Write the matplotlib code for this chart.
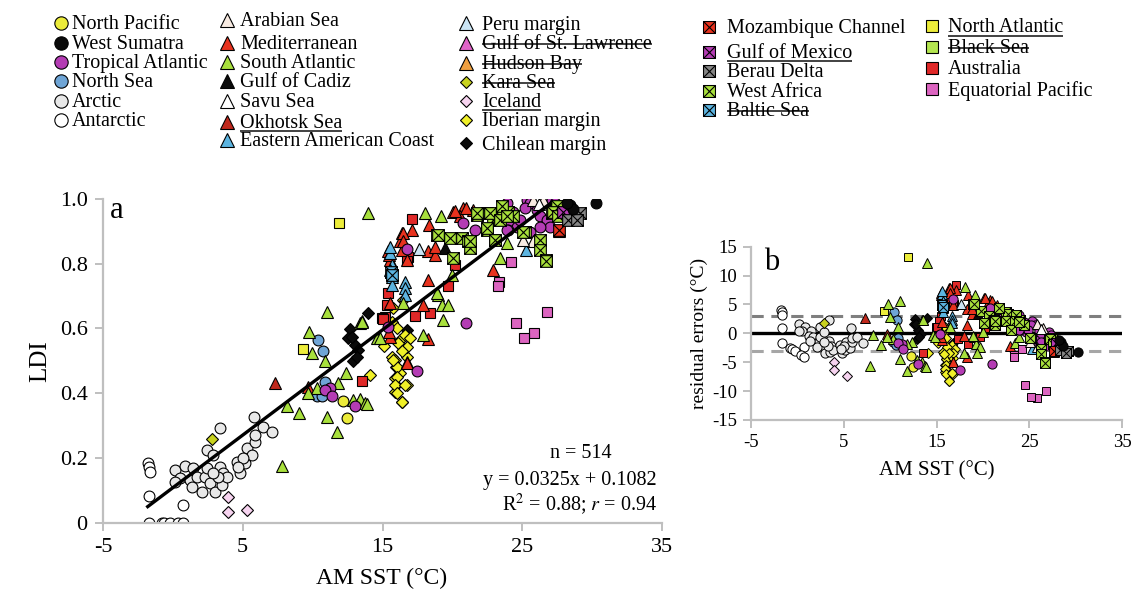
import matplotlib
matplotlib.use("Agg")
import matplotlib.pyplot as plt
from matplotlib.path import Path
import numpy as np

plt.rcParams['font.family'] = ['Liberation Serif', 'DejaVu Serif']
plt.rcParams['mathtext.fontset'] = 'stix'
plt.rcParams['axes.unicode_minus'] = False

# ---------------- data (AM SST in degC, LDI) ----------------
fit_slope = 0.0325
fit_intercept = 0.1082
fit_range = [-1.8, 27.0]
n_samples = 514

north_pacific_sst = [12.20, 12.44]
north_pacific_ldi = [0.376, 0.323]
west_sumatra_sst = [30.28, 28.42, 28.66, 28.18]
west_sumatra_ldi = [0.987, 0.982, 0.969, 0.987]
tropical_atlantic_sst = [25.32, 25.55, 25.20, 26.03, 26.27, 26.75, 26.99, 27.11, 27.34, 27.70, 28.06, 28.30,
                         24.36, 24.12, 24.60, 25.55, 26.27, 24.00, 24.84, 23.89, 27.46, 20.78, 16.78, 21.62,
                         23.88, 21.00, 15.36, 17.49, 11.24, 10.89, 11.36, 13.03]
tropical_atlantic_ldi = [0.998, 0.987, 0.972, 0.967, 0.946, 0.936, 0.915, 0.998, 0.987, 0.977, 0.967, 0.956,
                         0.961, 0.930, 0.915, 0.899, 0.915, 0.905, 0.936, 0.987, 0.946, 0.925, 0.845, 0.905,
                         0.905, 0.618, 0.606, 0.470, 0.415, 0.410, 0.392, 0.361]
north_sea_sst = [10.41, 10.72, 10.89, 10.29, 10.65]
north_sea_ldi = [0.565, 0.529, 0.436, 0.392, 0.390]
arctic_sst = [3.37, 0.15, 0.87, 1.46, 0.51, 1.23, 1.70, 2.30, 2.42, 2.42, 2.90, 2.66, 2.06, 1.35, 3.01, 3.49,
              3.37, 3.61, 3.85, 3.25, 4.57, 4.80, 5.16, 5.28, 5.64, 5.88, 5.88, 6.47, 5.81, 7.07, 5.04, 4.69,
              0.15, 2.90]
arctic_ldi = [0.294, 0.163, 0.175, 0.168, 0.137, 0.132, 0.142, 0.142, 0.168, 0.225, 0.209, 0.122, 0.096, 0.111,
              0.096, 0.117, 0.173, 0.153, 0.142, 0.142, 0.189, 0.153, 0.184, 0.230, 0.209, 0.250, 0.271, 0.297,
              0.328, 0.281, 0.200, 0.173, 0.127, 0.153]
antarctic_sst = [-1.76, -1.69, -1.64, -1.71, 0.75, -1.71, -0.80, -0.61, -0.21, 0.39, 0.75]
antarctic_ldi = [0.184, 0.173, 0.158, 0.084, 0.055, 0.0, 0.0, 0.0, 0.0, 0.0, 0.0]
arabian_sea_sst = [25.79, 26.46, 25.79, 25.03]
arabian_sea_ldi = [0.998, 0.998, 0.869, 0.874]
mediterranean_sst = [16.37, 16.25, 16.37, 17.09, 18.35, 20.07, 20.78, 21.50, 20.55, 15.42, 15.54, 16.73, 18.28,
                     18.76, 18.76, 18.28, 15.54, 17.92, 22.93, 15.54, 16.44, 15.49, 16.49, 20.19, 20.97, 27.65,
                     18.28, 16.78, 9.69, 16.73, 15.49]
mediterranean_ldi = [0.895, 0.869, 0.843, 0.905, 0.920, 0.961, 0.972, 0.967, 0.946, 0.838, 0.812, 0.812, 0.838,
                     0.828, 0.853, 0.750, 0.678, 0.673, 0.781, 0.575, 0.895, 0.828, 0.869, 0.964, 0.972, 0.902,
                     0.567, 0.495, 0.420, 0.493, 0.590]
south_atlantic_sst = [11.05, 9.76, 9.93, 10.89, 13.39, 13.50, 12.39, 11.79, 10.34, 9.69, 8.15, 9.05, 11.05,
                      11.77, 12.91, 13.39, 13.75, 13.87, 14.58, 7.79, 18.04, 19.16, 23.41, 18.99, 19.24, 19.71,
                      19.35, 17.92, 16.49, 13.51, 19.94, 14.82, 18.88, 23.89, 13.96]
south_atlantic_ldi = [0.652, 0.589, 0.524, 0.500, 0.616, 0.622, 0.462, 0.431, 0.415, 0.400, 0.361, 0.338, 0.325,
                      0.281, 0.379, 0.381, 0.369, 0.367, 0.570, 0.175, 0.958, 0.946, 0.817, 0.704, 0.673, 0.673,
                      0.626, 0.580, 0.678, 0.621, 0.766, 0.570, 0.709, 0.864, 0.957]
gulf_of_cadiz_sst = [19.47]
gulf_of_cadiz_ldi = [0.848]
savu_sea_sst = [26.20]
savu_sea_ldi = [0.985]
okhotsk_sea_sst = [7.31]
okhotsk_sea_ldi = [0.431]
east_american_sst = [15.54, 15.66, 15.54, 15.66, 15.66, 16.61, 16.61, 16.61, 15.54, 25.27]
east_american_ldi = [0.833, 0.797, 0.781, 0.760, 0.735, 0.745, 0.725, 0.704, 0.853, 0.843]
peru_margin_sst = [17.63]
peru_margin_ldi = [0.845]
kara_sea_sst = [2.82]
kara_sea_ldi = [0.259]
iceland_sst = [3.97, 3.92, 5.33]
iceland_ldi = [0.078, 0.032, 0.039]
iberian_sst = [14.10, 15.97, 16.25, 15.89, 15.97, 16.73, 15.89, 16.37, 15.11, 15.66, 15.89, 16.01, 16.01, 15.89,
               16.01, 16.37, 16.25, 16.44, 16.73, 16.61, 15.66, 16.01, 16.61, 16.97, 16.73, 16.13, 16.37, 15.77,
               16.49, 15.77]
iberian_ldi = [0.457, 0.482, 0.464, 0.446, 0.426, 0.426, 0.405, 0.374, 0.546, 0.513, 0.503, 0.482, 0.451, 0.426,
               0.400, 0.374, 0.565, 0.534, 0.513, 0.426, 0.621, 0.601, 0.580, 0.570, 0.544, 0.555, 0.529, 0.503,
               0.688, 0.663]
chilean_sst = [13.94, 12.67, 12.55, 13.03, 13.27, 12.91, 13.15, 12.80, 16.73]
chilean_ldi = [0.647, 0.599, 0.570, 0.549, 0.534, 0.498, 0.513, 0.575, 0.596]
mozambique_sst = [27.60]
mozambique_ldi = [0.905]
gulf_of_mexico_sst = [27.90]
gulf_of_mexico_ldi = [0.960]
berau_delta_sst = [29.13, 28.30, 28.90]
berau_delta_ldi = [0.956, 0.936, 0.936]
west_africa_sst = [18.88, 19.83, 20.67, 21.14, 21.26, 20.07, 21.73, 22.45, 22.93, 23.41, 22.45, 23.04, 24.00,
                   22.69, 23.53, 22.45, 23.41, 24.36, 25.20, 23.05, 26.27, 26.27, 26.70, 27.11, 27.46, 23.88,
                   26.70, 27.22, 27.58, 18.99, 21.26, 21.73, 25.08]
west_africa_ldi = [0.889, 0.879, 0.879, 0.869, 0.848, 0.817, 0.951, 0.956, 0.936, 0.946, 0.905, 0.874, 0.961,
                   0.956, 0.977, 0.910, 0.936, 0.946, 0.899, 0.874, 0.874, 0.843, 0.812, 0.956, 0.977, 0.946,
                   0.807, 0.961, 0.946, 0.889, 0.869, 0.956, 0.899]
baltic_sea_sst = [15.60, 15.70]
baltic_sea_ldi = [0.775, 0.765]
north_atlantic_sst = [11.91, 9.33]
north_atlantic_ldi = [0.925, 0.537]
australia_sst = [17.13, 16.85, 16.73, 20.19, 19.71, 15.42, 15.30, 15.18, 17.33, 18.40, 14.94, 15.01, 13.51]
australia_ldi = [0.938, 0.822, 0.807, 0.797, 0.730, 0.709, 0.673, 0.637, 0.639, 0.647, 0.632, 0.629, 0.438]
equatorial_pacific_sst = [24.17, 23.36, 23.29, 26.79, 24.55, 25.84, 25.15]
equatorial_pacific_ldi = [0.804, 0.745, 0.730, 0.652, 0.618, 0.585, 0.570]

# ---------------- styles ----------------
xbox = Path([(-1, -1), (1, -1), (1, 1), (-1, 1), (-1, -1), (-1, -1), (1, 1), (-1, 1), (1, -1)],
            [Path.MOVETO, Path.LINETO, Path.LINETO, Path.LINETO, Path.CLOSEPOLY,
             Path.MOVETO, Path.LINETO, Path.MOVETO, Path.LINETO])

# name, marker, colour, sst, ldi, decoration
series = [
    ("North Pacific", 'o', '#ecec3a', north_pacific_sst, north_pacific_ldi, None),
    ("West Sumatra", 'o', '#0a0a0a', west_sumatra_sst, west_sumatra_ldi, None),
    ("Tropical Atlantic", 'o', '#b43cb4', tropical_atlantic_sst, tropical_atlantic_ldi, None),
    ("North Sea", 'o', '#6fa5d6', north_sea_sst, north_sea_ldi, None),
    ("Arctic", 'o', '#e8e8e8', arctic_sst, arctic_ldi, None),
    ("Antarctic", 'o', '#ffffff', antarctic_sst, antarctic_ldi, None),
    ("Arabian Sea", '^', '#f8ebe2', arabian_sea_sst, arabian_sea_ldi, None),
    ("Mediterranean", '^', '#e8321e', mediterranean_sst, mediterranean_ldi, None),
    ("South Atlantic", '^', '#a8e03c', south_atlantic_sst, south_atlantic_ldi, None),
    ("Gulf of Cadiz", '^', '#0a0a0a', gulf_of_cadiz_sst, gulf_of_cadiz_ldi, None),
    ("Savu Sea", '^', '#ffffff', savu_sea_sst, savu_sea_ldi, None),
    ("Okhotsk Sea", '^', '#c0281c', okhotsk_sea_sst, okhotsk_sea_ldi, 'under'),
    ("Eastern American Coast", '^', '#5cb4e0', east_american_sst, east_american_ldi, None),
    ("Peru margin", '^', '#cbe5f5', peru_margin_sst, peru_margin_ldi, None),
    ("Gulf of St. Lawrence", '^', '#e064c8', [], [], 'strike'),
    ("Hudson Bay", '^', '#f0a040', [], [], 'strike'),
    ("Kara Sea", 'D', '#c8d21e', kara_sea_sst, kara_sea_ldi, 'strike'),
    ("Iceland", 'D', '#f7d4f0', iceland_sst, iceland_ldi, 'under'),
    ("Iberian margin", 'D', '#f0f028', iberian_sst, iberian_ldi, None),
    ("Chilean margin", 'D', '#0a0a0a', chilean_sst, chilean_ldi, None),
    ("Mozambique Channel", xbox, '#e8321e', mozambique_sst, mozambique_ldi, None),
    ("Gulf of Mexico", xbox, '#b43cb4', gulf_of_mexico_sst, gulf_of_mexico_ldi, 'under'),
    ("Berau Delta", xbox, '#858585', berau_delta_sst, berau_delta_ldi, None),
    ("West Africa", xbox, '#a8e03c', west_africa_sst, west_africa_ldi, None),
    ("Baltic Sea", xbox, '#5cb4e0', baltic_sea_sst, baltic_sea_ldi, 'strike'),
    ("North Atlantic", 's', '#ecec3a', north_atlantic_sst, north_atlantic_ldi, 'under'),
    ("Black Sea", 's', '#b4e650', [], [], 'strike'),
    ("Australia", 's', '#e02828', australia_sst, australia_ldi, None),
    ("Equatorial Pacific", 's', '#dc64c0', equatorial_pacific_sst, equatorial_pacific_ldi, None),
]

msize = {'o': 7.8, '^': 8.8, 'D': 5.8, 's': 7.6}
def ms(m):
    return msize.get(m, 8.4) if isinstance(m, str) else 8.4

legsize = {'o': 9.6, '^': 9.6, 'D': 6.6, 's': 8.6}
def lms(m):
    return legsize.get(m, 8.6) if isinstance(m, str) else 8.6

draw_order = ["Antarctic", "Arctic", "Iceland", "Kara Sea", "North Sea", "Okhotsk Sea", "North Atlantic",
              "Chilean margin", "Iberian margin", "Australia", "Mediterranean", "Eastern American Coast",
              "Baltic Sea", "Peru margin", "Gulf of Cadiz", "South Atlantic", "North Pacific",
              "Equatorial Pacific", "Tropical Atlantic", "Arabian Sea", "Savu Sea", "West Africa",
              "Gulf of Mexico", "Mozambique Channel", "Berau Delta", "West Sumatra"]
by_name = {s[0]: s for s in series}

# ---------------- figure ----------------
fig = plt.figure(figsize=(11.32, 5.94), dpi=100)
W, H = 1132, 594
axa = fig.add_axes([103 / W, 1 - 522.7 / H, 559 / W, 323.7 / H])
axb = fig.add_axes([751 / W, 1 - 420 / H, 371.3 / W, 173.3 / H])

grey = '#bfbfbf'
for ax in (axa, axb):
    for sp in ('top', 'right'):
        ax.spines[sp].set_visible(False)
    for sp in ('left', 'bottom'):
        ax.spines[sp].set_color(grey)
        ax.spines[sp].set_linewidth(1.6)
    ax.tick_params(direction='out', color=grey, width=1.4, length=6)
    ax.set_facecolor('none')

# regression line
fx = np.array(fit_range)
axa.plot(fx, fit_slope * fx + fit_intercept, color='black', lw=2.4, zorder=5)

for i, name in enumerate(draw_order):
    nm, mk, col, xs, ys, deco = by_name[name]
    xs = np.array(xs, dtype=float)
    ys = np.array(ys, dtype=float)
    if len(xs) == 0:
        continue
    axa.plot(xs, ys, linestyle='none', marker=mk, ms=ms(mk), mfc=col, mec='black', mew=0.8,
             zorder=2 + i * 0.01 if name not in ("West Sumatra",) else 6)
    resid = (ys - fit_intercept) / fit_slope - xs
    axb.plot(xs, resid, linestyle='none', marker=mk, ms=ms(mk) * 0.85, mfc=col, mec='black', mew=0.7,
             zorder=3 + i * 0.01)

axa.set_xlim(-5, 35)
axa.set_ylim(0, 1.0)
axa.set_xticks([-5, 5, 15, 25, 35])
axa.set_xticklabels(['-5', '5', '15', '25', '35'])
axa.set_yticks([0, 0.2, 0.4, 0.6, 0.8, 1.0])
axa.set_yticklabels(['0', '0.2', '0.4', '0.6', '0.8', '1.0'])
axa.tick_params(labelsize=16, pad=5)

axb.set_xlim(-5, 35)
axb.set_ylim(-15, 15)
axb.set_xticks([-5, 5, 15, 25, 35])
axb.set_yticks([-15, -10, -5, 0, 5, 10, 15])
axb.tick_params(labelsize=13.5, pad=4)
axb.axhline(0, color='black', lw=2.4, zorder=2)
axb.axhline(3, color='#7f7f7f', lw=2.2, ls=(0, (4, 2.5)), zorder=2)
axb.axhline(-3, color='#a6a6a6', lw=2.2, ls=(0, (4, 2.5)), zorder=2)

# overlay in pixel coordinates for text / legend
ov = fig.add_axes([0, 0, 1, 1], zorder=-1)
ov.set_xlim(0, W)
ov.set_ylim(H, 0)
ov.axis('off')

ov.text(40, 361, 'LDI', rotation=90, ha='center', va='center', fontsize=18)
ov.text(382, 578, 'AM SST (°C)', ha='center', va='center', fontsize=17)
ov.text(937, 471, 'AM SST (°C)', ha='center', va='center', fontsize=15)
ov.text(699, 333, 'residual errors (°C)', rotation=90, ha='center', va='center', fontsize=14)
ov.text(110, 210, 'a', ha='left', va='center', fontsize=22)
ov.text(764, 262, 'b', ha='left', va='center', fontsize=22)

ov.text(581, 453, 'n = %d' % n_samples, ha='center', va='center', fontsize=14.5)
ov.text(657, 480, 'y = %.4fx + %.4f' % (fit_slope, fit_intercept), ha='right', va='center', fontsize=14.5)
ov.text(657, 504, r'R$^{2}$ = 0.88; $\mathit{r}$ = 0.94', ha='right', va='center', fontsize=14.5)

# legend layout: (column marker x, text x, row y values)
legend_cols = [
    (61, 72, [22.7, 42.7, 61.7, 81, 101, 120]),
    (227, 240, [19.5, 42.7, 61.7, 81, 100.7, 121.7, 140]),
    (466, 482, [23.3, 42.7, 62.7, 81.7, 100.7, 120, 143.3]),
    (709, 727, [26.7, 51.7, 70.7, 90.7, 110]),
    (932, 948, [26, 46.7, 67.7, 89.3]),
]
texts = []
k = 0
for mx, tx, rows in legend_cols:
    for ry in rows:
        nm, mk, col, xs, ys, deco = series[k]
        k += 1
        ov.plot([mx], [ry], linestyle='none', marker=mk, ms=lms(mk), mfc=col, mec='black', mew=0.8,
                clip_on=False)
        t = ov.text(tx, ry + 6.3, nm, ha='left', va='baseline', fontsize=14.5)
        texts.append((t, deco, ry))

fig.canvas.draw()
r = fig.canvas.get_renderer()
inv = ov.transData.inverted()
for t, deco, ry in texts:
    if deco is None:
        continue
    bb = t.get_window_extent(r)
    (x0, _), (x1, _) = inv.transform([(bb.x0, bb.y0), (bb.x1, bb.y1)])
    if deco == 'under':
        yy = ry + 9.5
    else:
        yy = ry + 1.0
    ov.plot([x0, x1], [yy, yy], color='#333333', lw=1.3, solid_capstyle='butt')

fig.savefig('out.png', dpi=100)
